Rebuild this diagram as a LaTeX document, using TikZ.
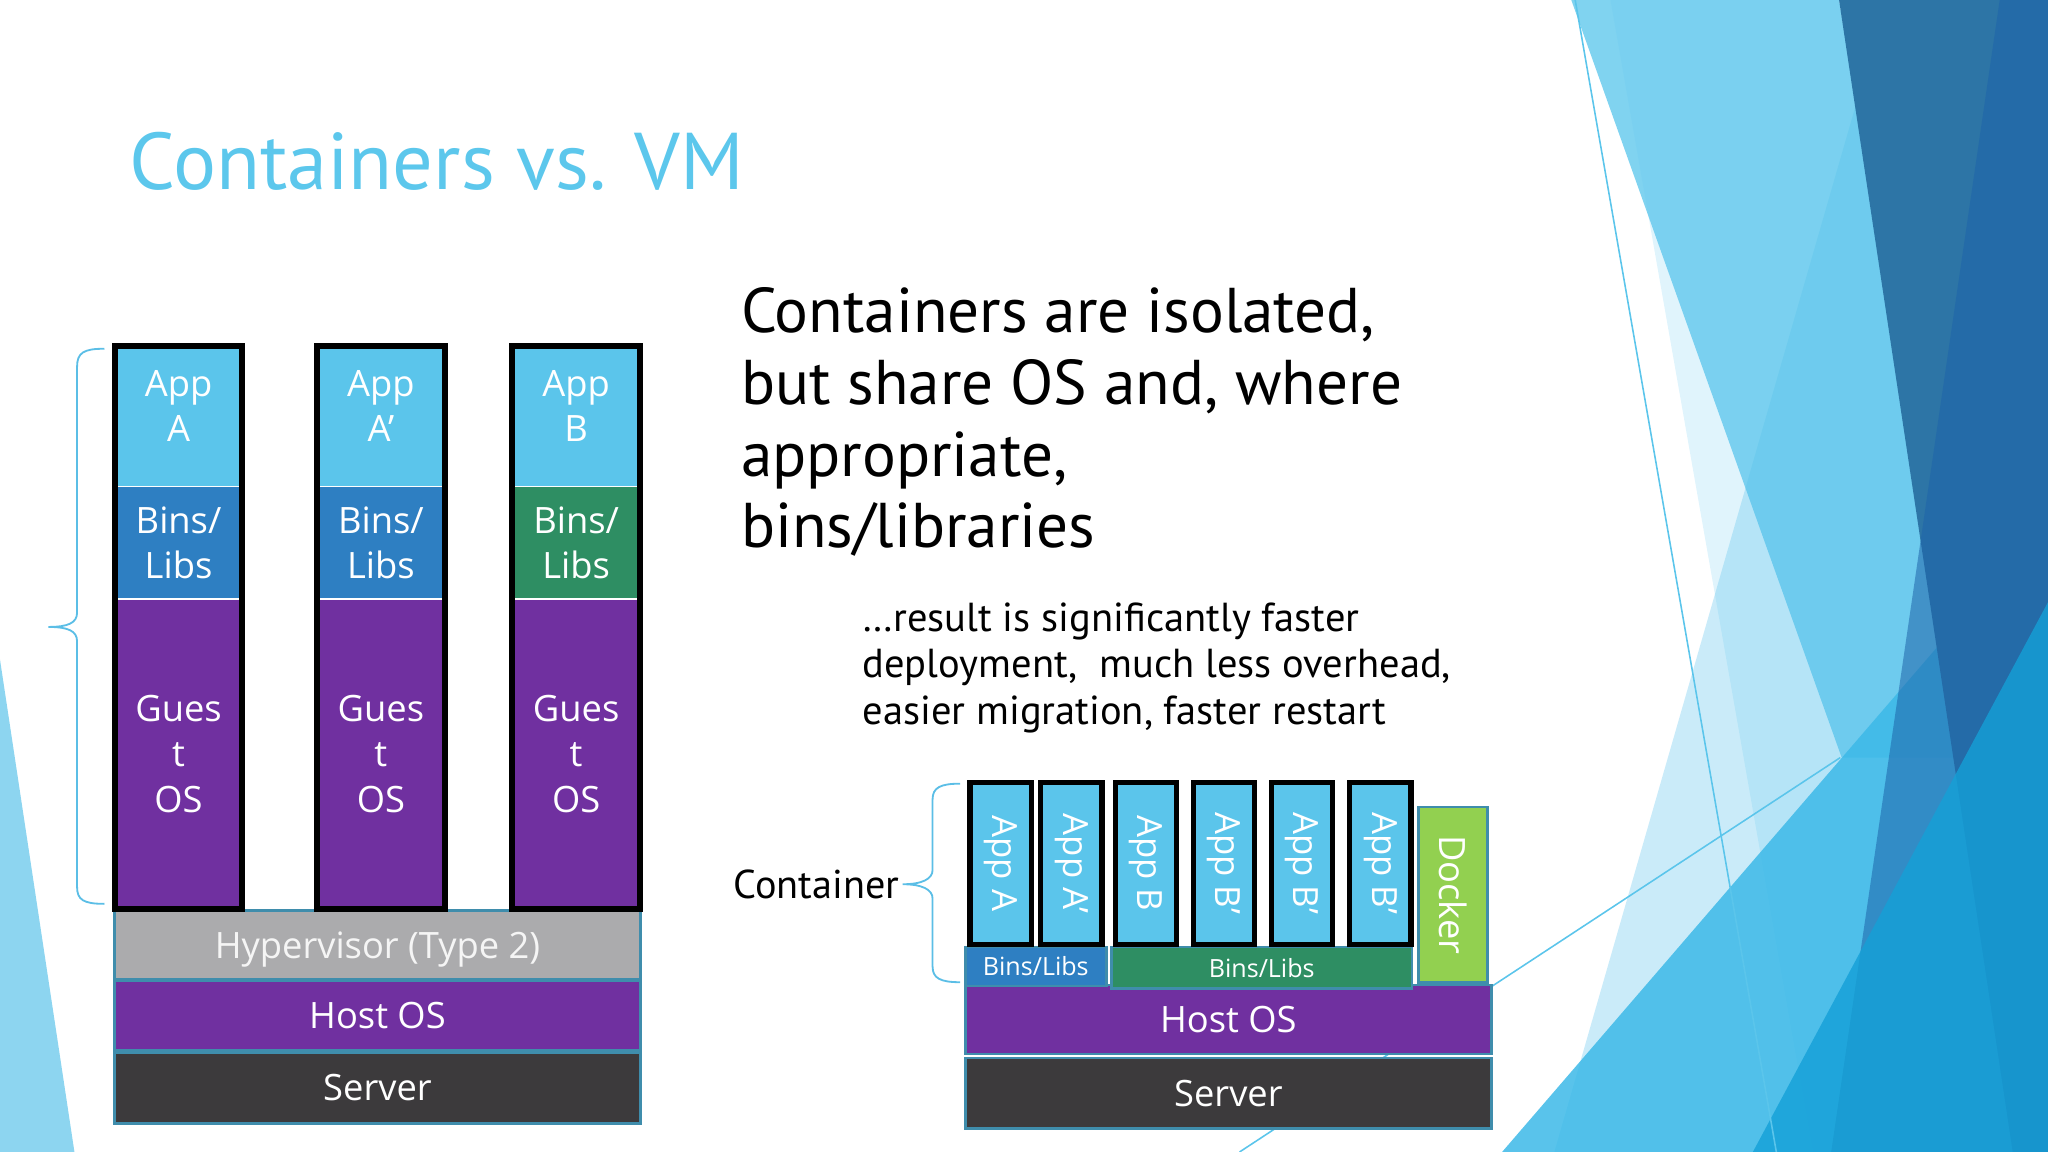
\documentclass[tikz,border=0pt]{standalone}
\usepackage{fontspec}
\setmainfont{PT Sans}
\newfontfamily\diagfont{Open Sans}
\usetikzlibrary{positioning}
\definecolor{titleblue}{RGB}{92,199,236}
\definecolor{appblue}{RGB}{91,197,235}
\definecolor{binsblue}{RGB}{46,127,194}
\definecolor{binsgreen}{RGB}{46,142,99}
\definecolor{osviolet}{RGB}{112,48,160}
\definecolor{hvgray}{RGB}{171,171,173}
\definecolor{servergray}{RGB}{60,58,60}
\definecolor{dockergreen}{RGB}{146,208,80}
\definecolor{edgeteal}{RGB}{63,141,172}
\definecolor{bracecol}{RGB}{91,190,230}
\definecolor{facetsky}{RGB}{141,213,240}
\definecolor{facetlight}{RGB}{128,211,240}
\definecolor{facetpale}{RGB}{80,190,235}
\definecolor{facetmist}{RGB}{100,200,240}
\definecolor{facetcyan}{RGB}{60,185,232}
\definecolor{facetsteel}{RGB}{45,117,166}
\definecolor{facetnavy}{RGB}{30,100,170}
\definecolor{facetbright}{RGB}{20,160,215}
\tikzset{
  >=stealth,
  line join=round,
  layer/.style={draw=edgeteal, line width=1pt, text=white, inner sep=0pt, align=center,
    font=\diagfont\fontsize{13.9}{17.5}\selectfont},
  vmpart/.style={draw=none, inner sep=0pt, minimum width=48.5pt, text=white, align=center,
    font=\diagfont\fontsize{13.9}{17.5}\selectfont},
  vmtext/.style={inner sep=0pt, text=white, align=center, font=\diagfont\fontsize{13.9}{17.5}\selectfont},
  colframe/.style={draw=black, line width=2.3pt},
  ctapp/.style={draw=black, line width=2pt, fill=appblue, text=white, inner sep=0pt,
    rotate=-90, minimum width=62pt, minimum height=23.5pt,
    font=\diagfont\fontsize{13.3}{15}\selectfont},
  ctbins/.style={layer, font=\diagfont\fontsize{9.6}{11}\selectfont},
  bracepath/.style={draw=bracecol, line width=0.7pt},
  facetline/.style={draw=appblue, line width=0.6pt}
}
\begin{document}
\begin{tikzpicture}[x=0.5pt,y=-0.5pt]
  \useasboundingbox (0,0) rectangle (1568,882);

  % facet background
  \begin{scope}
    \clip (0,0) rectangle (1568,882);
    \fill[facetsky] (0,505) -- (57,882) -- (0,882) -- cycle;
    \fill[facetlight] (1203,0) -- (1408,0) -- (1504,580) -- (1410,580) -- cycle;
    \fill[facetpale, fill opacity=0.3] (1444,0) -- (1568,0) -- (1568,882) -- (1190,882) -- cycle;
    \fill[facetmist, fill opacity=0.2] (1233,0) -- (1568,0) -- (1568,882) -- (1388,882) -- cycle;
    \fill[facetcyan, fill opacity=0.85] (1150,882) -- (1568,397) -- (1568,882) -- cycle;
    \fill[facetsteel] (1408,0) -- (1568,0) -- (1568,882) -- (1541,882) -- cycle;
    \fill[facetnavy, fill opacity=0.55] (1531,0) -- (1568,0) -- (1568,882) -- (1402,882) -- cycle;
    \fill[facetbright, fill opacity=0.8] (1568,461) -- (1568,882) -- (1342,882) -- cycle;
    \draw[facetline] (1206,0) -- (1360,882);
    \draw[facetline] (949,882) -- (1409,580);
  \end{scope}

  \node[anchor=base west, inner sep=0pt, text=titleblue, font=\fontsize{30.8}{36}\selectfont] (title) at (99,145) {Containers vs. VM};
  \node[anchor=north west, inner sep=0pt, align=left, font=\fontsize{24.2}{27.4}\selectfont] (claim) at (567,220)
    {Containers are isolated,\\but share OS and, where\\appropriate,\\bins/libraries};
  \node[anchor=north west, inner sep=0pt, align=left, font=\fontsize{15.5}{17.75}\selectfont] (result) at (660,461)
    {…result is significantly faster\\deployment,\ \ much less overhead,\\easier migration, faster restart};

  % virtual machines
  \node[layer, fill=hvgray, text=white!92!gray, text depth=0pt, minimum width=201.5pt, minimum height=26.5pt] (hyper) at (289,723.5) {Hypervisor (Type 2)};
  \node[layer, fill=osviolet, minimum width=201.5pt, minimum height=27pt] (vmhost) at (289,777.5) {Host OS};
  \node[layer, fill=servergray, minimum width=201.5pt, minimum height=27pt] (vmserver) at (289,833) {Server};

  \foreach \col/\cx/\binscol/\app in {A/136.7/binsblue/A, B/291.6/binsblue/A’, C/441.1/binsgreen/B}{
    \node[vmpart, fill=appblue, minimum height=53.5pt, anchor=north] (vmapp\col) at (\cx,265) {};
    \node[vmtext] (vmapptext\col) at ([yshift=4pt]vmapp\col.center) {App\\\app};
    \node[vmpart, fill=\binscol, minimum height=42.5pt, below=0pt of vmapp\col] (vmbins\col) {Bins/\\Libs};
    \node[vmpart, fill=osviolet, minimum height=118.25pt, below=0pt of vmbins\col] (vmguest\col) {Gues\\t\\OS};
    \draw[colframe] (vmapp\col.north west) rectangle (vmguest\col.south east);
  }

  \coordinate (vmbrtop) at (80,267);
  \coordinate (vmbrbot) at (80,692);
  \draw[bracepath] (vmbrtop) .. controls (64,267) and (59,270) .. (59,281) -- (59,469)
    .. controls (59,477) and (52,480) .. (37,480) .. controls (52,480) and (59,483) .. (59,491)
    -- (59,679) .. controls (59,689) and (64,692) .. (vmbrbot);

  % containers
  \node[layer, fill=osviolet, minimum width=201.5pt, minimum height=26.5pt] (cthost) at (940.5,780.5) {Host OS};
  \node[layer, fill=servergray, minimum width=201.5pt, minimum height=27pt] (ctserver) at (940.5,837) {Server};
  \node[ctbins, fill=binsblue, minimum width=54pt, minimum height=15pt] (ctbinsA) at (793,740) {Bins/Libs};
  \node[ctbins, fill=binsgreen, minimum width=115pt, minimum height=16pt] (ctbinsB) at (966,741) {Bins/Libs};
  \node[layer, fill=dockergreen, rotate=-90, minimum width=67pt, minimum height=26.5pt] (docker) at (1112.5,685) {Docker};

  \foreach \i/\cx/\lbl in {1/766.2/App A, 2/820.2/App A’, 3/877.5/App B, 4/937/App B’, 5/996.7/App B’, 6/1056.8/App B’}
    \node[ctapp] (ctapp\i) at (\cx,661) {\lbl};

  \node[anchor=east, inner sep=0pt, font=\fontsize{15.4}{17}\selectfont] (ctlabel) at (689,677) {Container};
  \coordinate (ctbrtop) at (735,600);
  \coordinate (ctbrbot) at (735,752);
  \draw[bracepath] (ctbrtop) .. controls (720,600) and (714,603) .. (714,612) -- (714,666)
    .. controls (714,673) and (706,677) .. ([xshift=1pt]ctlabel.east) .. controls (706,677) and (714,681) .. (714,688)
    -- (714,740) .. controls (714,749) and (720,752) .. (ctbrbot);
\end{tikzpicture}
\end{document}
